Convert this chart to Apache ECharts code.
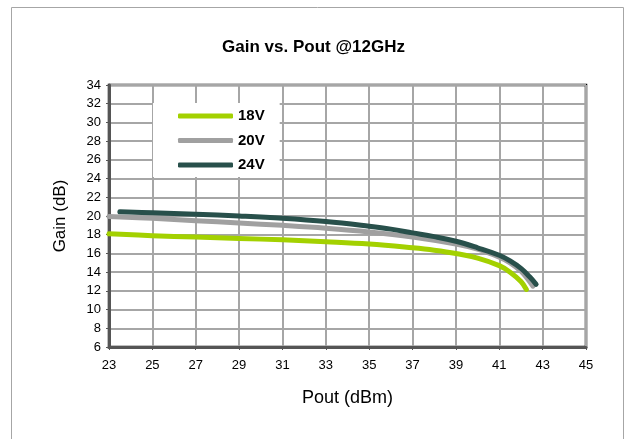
<!DOCTYPE html>
<html>
<head>
<meta charset="utf-8">
<script src="https://cdn.jsdelivr.net/npm/echarts@6/dist/echarts.min.js"></script>
<style>
  html, body { margin: 0; padding: 0; background: #fff; }
  #chart { width: 627px; height: 439px; }
</style>
</head>
<body>
<div id="chart"></div>
<script>
// Gain (dB) versus output power (dBm) at 12 GHz for three drain voltages
const seriesNames = ['18V', '20V', '24V'];
const seriesColors = ['#a3d100', '#a0a0a0', '#28504b'];

const gain18V = [
  [23, 18.1], [25, 17.9], [27, 17.75], [29, 17.6], [31, 17.45], [33, 17.25],
  [35, 17.0], [37, 16.6], [38, 16.35], [39, 16.0], [40, 15.5], [41, 14.7],
  [41.5, 14.0], [42, 13.0], [42.25, 12.15]
];
const gain20V = [
  [23, 19.95], [25, 19.75], [27, 19.5], [29, 19.25], [31, 19.0], [33, 18.7],
  [35, 18.3], [37, 17.75], [39, 17.0], [40, 16.45], [41, 15.6], [41.5, 15.0],
  [42, 14.1], [42.3, 13.3], [42.55, 12.5]
];
const gain24V = [
  [23.5, 20.45], [25, 20.35], [27, 20.2], [29, 20.0], [31, 19.75], [33, 19.4],
  [35, 18.9], [36, 18.6], [37, 18.2], [38, 17.8], [39, 17.3], [40, 16.6],
  [41, 15.8], [41.5, 15.2], [42, 14.4], [42.4, 13.5], [42.7, 12.7]
];
const seriesData = [gain18V, gain20V, gain24V];

const xRange = { min: 23, max: 45, step: 2 };
const yRange = { min: 6, max: 34, step: 2 };

const chart = echarts.init(document.getElementById('chart'), null, { renderer: 'canvas' });

const font = '"Liberation Sans", Arial, sans-serif';

chart.setOption({
  animation: false,
  backgroundColor: '#ffffff',
  title: {
    text: 'Gain vs. Pout @12GHz',
    left: 'center',
    top: 34,
    textStyle: { fontFamily: font, fontSize: 17, fontWeight: 'bold', color: '#000' }
  },
  graphic: [
    {
      type: 'rect', z: -10, silent: true,
      shape: { x: 11.5, y: 7.5, width: 612, height: 440 },
      style: { fill: 'none', stroke: '#a6a6a6', lineWidth: 1 }
    }
  ],
  legend: {
    orient: 'vertical',
    left: 153,
    top: 103,
    backgroundColor: '#ffffff',
    padding: [5, 15, 4, 25],
    itemWidth: 55,
    itemHeight: 5,
    itemGap: 8.5,
    icon: 'roundRect',
    textStyle: { fontFamily: font, fontSize: 15, fontWeight: 'bold', color: '#000', lineHeight: 16 },
    data: seriesNames
  },
  grid: {
    left: 109, top: 85, width: 477, height: 262,
    show: true, borderColor: '#000', borderWidth: 2.5, backgroundColor: 'transparent',
    containLabel: false
  },
  xAxis: {
    type: 'value',
    min: xRange.min, max: xRange.max, interval: xRange.step,
    name: 'Pout (dBm)',
    nameLocation: 'middle',
    nameGap: 42,
    nameTextStyle: { fontFamily: font, fontSize: 18, color: '#000' },
    axisLine: { show: true, onZero: false, lineStyle: { color: '#555', width: 3 } },
    axisTick: { show: true, length: 3, lineStyle: { color: '#555', width: 1 } },
    axisLabel: { margin: 12, fontFamily: font, fontSize: 13, color: '#000' },
    splitLine: { show: true, lineStyle: { color: '#a6a6a6', width: 2 } }
  },
  yAxis: {
    type: 'value',
    min: yRange.min, max: yRange.max, interval: yRange.step,
    name: 'Gain (dB)',
    nameLocation: 'middle',
    nameGap: 40,
    nameTextStyle: { fontFamily: font, fontSize: 17, color: '#000' },
    axisLine: { show: true, onZero: false, lineStyle: { color: '#555', width: 3 } },
    axisTick: { show: true, length: 3, lineStyle: { color: '#555', width: 1 } },
    axisLabel: { margin: 8, fontFamily: font, fontSize: 13, color: '#000' },
    splitLine: { show: true, lineStyle: { color: '#a6a6a6', width: 2 } }
  },
  series: seriesNames.map((name, i) => ({
    name: name,
    type: 'line',
    data: seriesData[i],
    smooth: 0.4,
    showSymbol: false,
    symbol: 'none',
    color: seriesColors[i],
    lineStyle: { width: 5, color: seriesColors[i], cap: 'round', join: 'round' },
    itemStyle: { color: seriesColors[i] },
    z: 2 + i
  }))
});
</script>
</body>
</html>
